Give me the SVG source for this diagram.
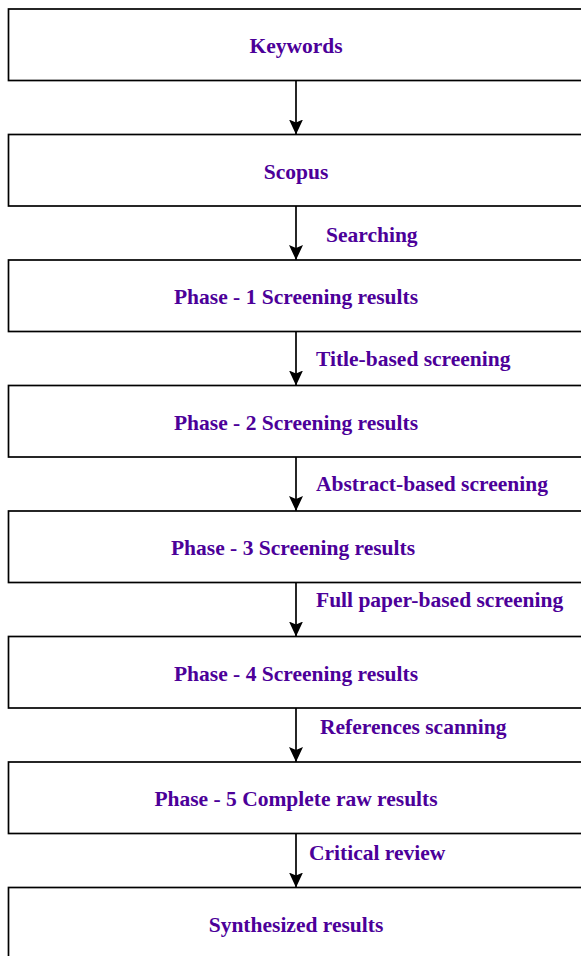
<svg xmlns="http://www.w3.org/2000/svg" width="581" height="956" viewBox="0 0 581 956">
<defs>
<style>
.box{fill:#fff;stroke:#000;stroke-width:1.7}
.t{font-family:"Liberation Serif","Times New Roman",serif;font-weight:bold;font-size:21.5px;fill:#4C0099}
.c{text-anchor:middle}
.e{stroke:#000;stroke-width:1.7;fill:none;marker-end:url(#ah)}
</style>
<marker id="ah" viewBox="0 0 15 14" refX="15" refY="7" markerWidth="15" markerHeight="14" markerUnits="userSpaceOnUse" orient="auto">
<path d="M0,0 L15,7 L0,14 L3,7 Z" fill="#000"/>
</marker>
</defs>
<rect width="581" height="956" fill="#fff"/>
<g id="connectors">
<line class="e" x1="296" y1="80.5" x2="296" y2="134.5"/>
<line class="e" x1="296" y1="206" x2="296" y2="260"/>
<line class="e" x1="296" y1="331.5" x2="296" y2="385.5"/>
<line class="e" x1="296" y1="457" x2="296" y2="511"/>
<line class="e" x1="296" y1="582.5" x2="296" y2="636.5"/>
<line class="e" x1="296" y1="708" x2="296" y2="762"/>
<line class="e" x1="296" y1="833.5" x2="296" y2="887.5"/>
<text class="t" x="326" y="241.7">Searching</text>
<text class="t" x="316" y="365.7">Title-based screening</text>
<text class="t" x="316" y="490.7">Abstract-based screening</text>
<text class="t" x="316" y="606.7">Full paper-based screening</text>
<text class="t" x="320" y="734">References scanning</text>
<text class="t" x="309" y="860">Critical review</text>
</g>
<g id="n1"><rect class="box" x="8.5" y="9" width="590" height="71.5"/><text class="t c" x="296" y="53">Keywords</text></g>
<g id="n2"><rect class="box" x="8.5" y="134.5" width="590" height="71.5"/><text class="t c" x="296" y="178.5">Scopus</text></g>
<g id="n3"><rect class="box" x="8.5" y="260" width="590" height="71.5"/><text class="t c" x="296" y="304">Phase - 1 Screening results</text></g>
<g id="n4"><rect class="box" x="8.5" y="385.5" width="590" height="71.5"/><text class="t c" x="296" y="429.5">Phase - 2 Screening results</text></g>
<g id="n5"><rect class="box" x="8.5" y="511" width="590" height="71.5"/><text class="t c" x="293" y="555">Phase - 3 Screening results</text></g>
<g id="n6"><rect class="box" x="8.5" y="636.5" width="590" height="71.5"/><text class="t c" x="296" y="680.5">Phase - 4 Screening results</text></g>
<g id="n7"><rect class="box" x="8.5" y="762" width="590" height="71.5"/><text class="t c" x="296" y="806">Phase - 5 Complete raw results</text></g>
<g id="n8"><rect class="box" x="8.5" y="887.5" width="590" height="71.5"/><text class="t c" x="296" y="931.5">Synthesized results</text></g>
</svg>
